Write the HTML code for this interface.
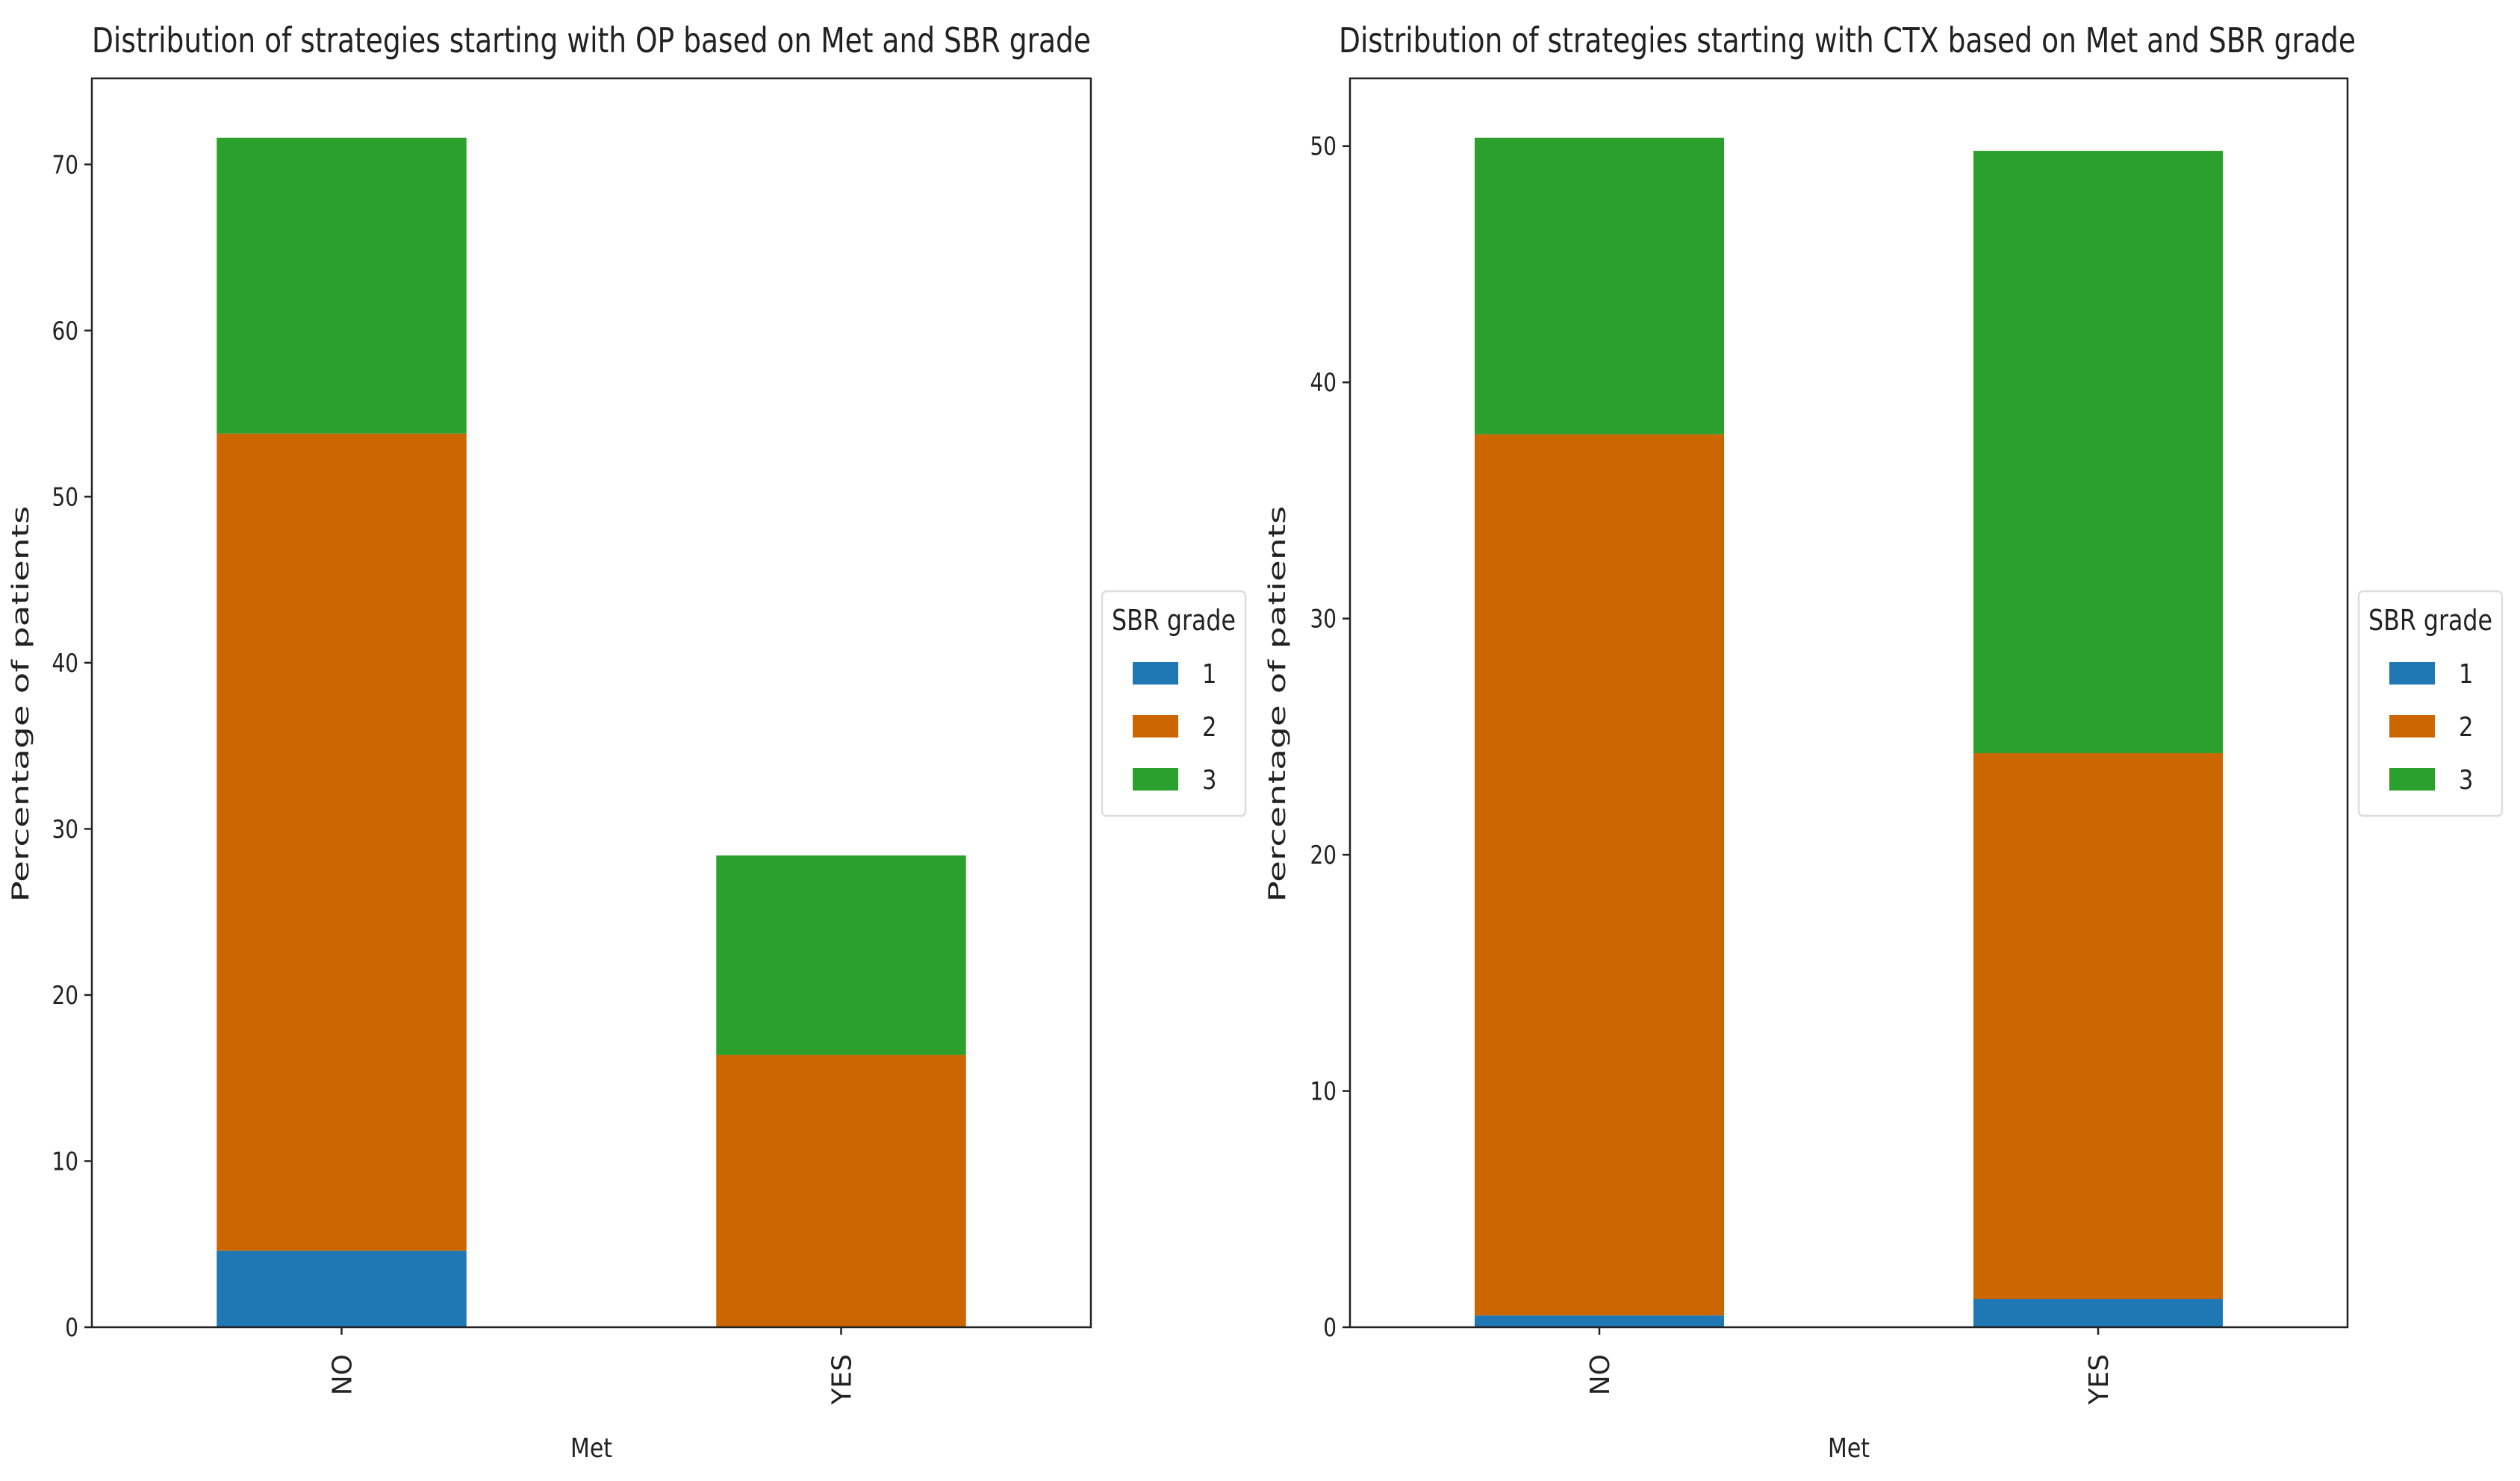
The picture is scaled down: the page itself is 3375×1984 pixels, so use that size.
<!DOCTYPE html>
<html><head><meta charset="utf-8"><style>
html,body{margin:0;padding:0;background:#fff;}
svg{display:block;font-family:"DejaVu Sans","Liberation Sans",sans-serif;}
</style></head><body>
<svg id="fig" width="3375" height="1984" viewBox="0 0 3375 1984" xmlns="http://www.w3.org/2000/svg"></svg>
<script>
const categories = ["NO", "YES"];
const grades = ["1", "2", "3"];
const colors = ["#1f77b4", "#cc6600", "#2ca02c"];
const opGrade1 = [4.6, 0.0];
const opGrade2 = [49.2, 16.4];
const opGrade3 = [17.8, 12.0];
const ctxGrade1 = [0.5, 1.2];
const ctxGrade2 = [37.3, 23.1];
const ctxGrade3 = [12.55, 25.5];
const opTicks = [0, 10, 20, 30, 40, 50, 60, 70];
const ctxTicks = [0, 10, 20, 30, 40, 50];

const NS = "http://www.w3.org/2000/svg";
const svg = document.getElementById("fig");
function mk(tag, attrs, parent, text) {
  const e = document.createElementNS(NS, tag);
  for (const k in attrs) e.setAttribute(k, attrs[k]);
  if (text !== undefined) e.textContent = text;
  (parent || svg).appendChild(e);
  return e;
}

function drawChart(opts) {
  const g = mk("g", {});
  
  
  const L = opts.left, R = opts.right, T = 105, B = 1778;
  const series = [opts.s1, opts.s2, opts.s3];
  let maxTotal = 0;
  categories.forEach((c, i) => { maxTotal = Math.max(maxTotal, series[0][i] + series[1][i] + series[2][i]); });
  const yMax = maxTotal * 1.05;
  const y = v => B - (v / yMax) * (B - T);
  const x = i => L + (i + 0.5) / 2 * (R - L);
  const bw = 0.5 / 2 * (R - L);

  categories.forEach((c, i) => {
    let base = 0;
    series.forEach((s, k) => {
      const v = s[i];
      const r = mk("rect", { x: x(i) - bw / 2, y: y(base + v), width: bw, height: Math.max(0, y(base) - y(base + v)), fill: colors[k] }, g);
      
      
      base += v;
    });
  });

  const frame = mk("rect", { x: L, y: T, width: R - L, height: B - T, fill: "none", stroke: "#222", "stroke-width": 2.5 }, g);
  
  

  opts.ticks.forEach(t => {
    mk("line", { x1: L - 10, x2: L, y1: y(t), y2: y(t), stroke: "#222", "stroke-width": 2.5 }, g);
    const tl = mk("text", { x: L - 18, y: y(t) + 12, "text-anchor": "end", "font-size": 34, fill: "#222", transform: `translate(${L - 18},0) scale(0.82,1) translate(${-(L - 18)},0)` }, g, String(t));
    
    
  });
  categories.forEach((c, i) => {
    mk("line", { x1: x(i), x2: x(i), y1: B, y2: B + 10, stroke: "#222", "stroke-width": 2.5 }, g);
    const tl = mk("text", { x: 0, y: 0, "text-anchor": "end", "font-size": 36, fill: "#222", transform: `translate(${x(i) + 13},${B + 36}) rotate(-90)` }, g, c);
    
    
  });

  const title = mk("text", { x: (opts.titleL + opts.titleR) / 2, y: 70, "text-anchor": "middle", "font-size": 46, fill: "#222", textLength: opts.titleR - opts.titleL, lengthAdjust: "spacingAndGlyphs" }, g, opts.title);
  
  

  const xl = mk("text", { x: (L + R) / 2, y: 1952, "text-anchor": "middle", "font-size": 36, fill: "#222", textLength: 56, lengthAdjust: "spacingAndGlyphs" }, g, "Met");
  
  

  const yl = mk("text", { x: 0, y: 0, "text-anchor": "middle", "font-size": 31, fill: "#222", textLength: 531, lengthAdjust: "spacingAndGlyphs", transform: `translate(${opts.ylabelX},943) rotate(-90)` }, g, "Percentage of patients");
  
  

  const lg = mk("g", {}, g);
  
  
  const lx = opts.legendX;
  mk("rect", { x: lx, y: 792, width: 192, height: 301, rx: 6, fill: "#fff", stroke: "#ddd", "stroke-width": 2.5 }, lg);
  const lt = mk("text", { x: lx + 96, y: 844, "text-anchor": "middle", "font-size": 38, fill: "#222", textLength: 166, lengthAdjust: "spacingAndGlyphs" }, lg, "SBR grade");
  
  
  grades.forEach((gr, k) => {
    const cy = 902 + k * 71;
    const p = mk("rect", { x: lx + 41, y: cy - 15, width: 61, height: 30, fill: colors[k] }, lg);
    
    
    const t = mk("text", { x: lx + 134, y: cy + 13, "font-size": 36, fill: "#222", transform: `translate(${lx + 134},0) scale(0.85,1) translate(${-(lx + 134)},0)` }, lg, gr);
    
    
  });
}

drawChart({ name: "op-chart", left: 123, right: 1461, s1: opGrade1, s2: opGrade2, s3: opGrade3, ticks: opTicks,
  title: "Distribution of strategies starting with OP based on Met and SBR grade", titleL: 123, titleR: 1461, ylabelX: 38, legendX: 1476 });
drawChart({ name: "ctx-chart", left: 1808, right: 3144, s1: ctxGrade1, s2: ctxGrade2, s3: ctxGrade3, ticks: ctxTicks,
  title: "Distribution of strategies starting with CTX based on Met and SBR grade", titleL: 1793, titleR: 3155, ylabelX: 1721, legendX: 3159 });
</script>
</body></html>
